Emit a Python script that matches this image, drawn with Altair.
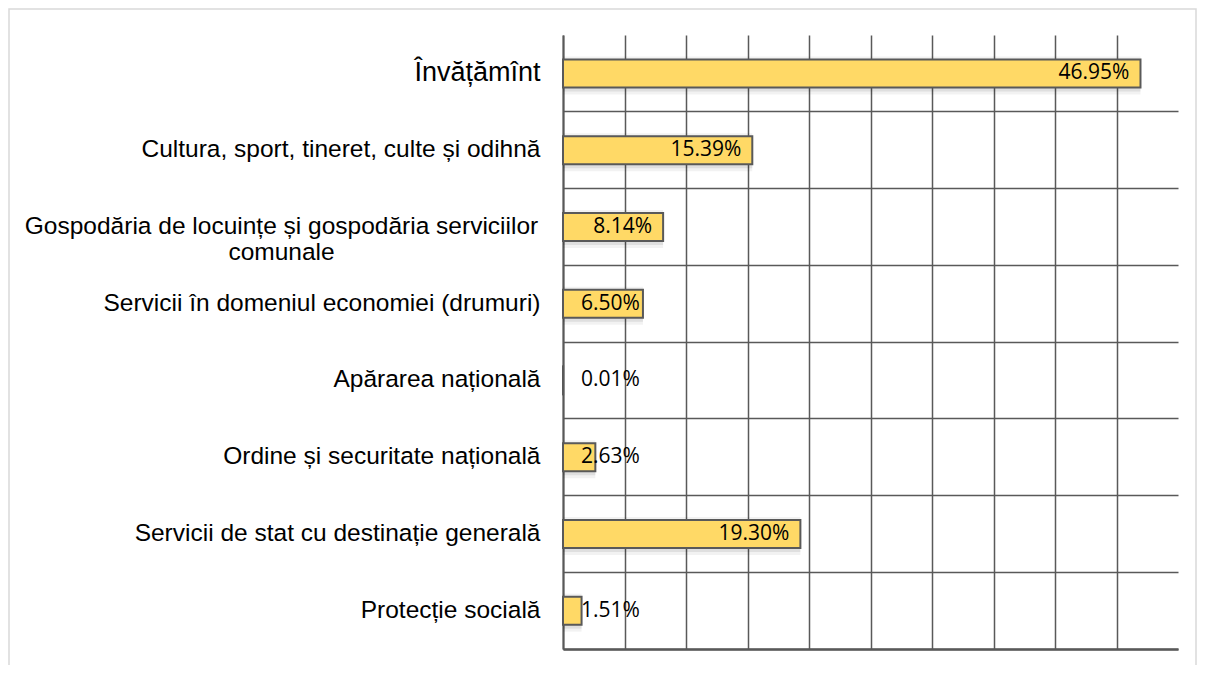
import altair as alt
import pandas as pd

categories = [
    "Învățămînt",
    "Cultura, sport, tineret, culte și odihnă",
    "Gospodăria de locuințe și gospodăria serviciilor comunale",
    "Servicii în domeniul economiei (drumuri)",
    "Apărarea națională",
    "Ordine și securitate națională",
    "Servicii de stat cu destinație generală",
    "Protecție socială",
]
values = [46.95, 15.39, 8.14, 6.50, 0.01, 2.63, 19.30, 1.51]
grid_values = [0, 5, 10, 15, 20, 25, 30, 35, 40, 45]

df = pd.DataFrame({"cat": categories, "value": values})
df["label"] = [f"{v:.2f}%" for v in values]

W, H = 615, 614
GRAY = "#595959"

y_enc = alt.Y(
    "cat:N",
    sort=categories,
    title=None,
    scale=alt.Scale(paddingInner=0, paddingOuter=0),
    axis=alt.Axis(
        ticks=False,
        domain=True,
        domainColor=GRAY,
        domainWidth=2,
        grid=True,
        gridColor=GRAY,
        gridWidth=1.5,
        bandPosition=1,
        labelFont="Liberation Sans",
        labelFontSize={"condition": {"test": "datum.label == 'Învățămînt'", "value": 27}, "value": 24.5},
        labelColor="#000000",
        labelAlign={"condition": {"test": "indexof(datum.label, 'Gospod') == 0", "value": "center"}, "value": "right"},
        labelPadding={"condition": {"test": "indexof(datum.label, 'Gospod') == 0", "value": 282}, "value": 23},
        labelLineHeight=26,
        labelLimit=600,
        labelExpr="indexof(datum.label, 'Gospod') == 0 ? ['Gospodăria de locuințe și gospodăria serviciilor', 'comunale'] : datum.label",
    ),
)

x_scale = alt.Scale(domain=[0, 50], nice=False)

base = alt.Chart(df)

border = alt.Chart(alt.Data(values=[{"a": 1}])).mark_rect(
    fill=None, stroke="#d9d9d9", strokeWidth=1.5, clip=False
).encode(
    x=alt.value(-554), x2=alt.value(633), y=alt.value(-26), y2=alt.value(700)
)

bars_axis = base.mark_bar(opacity=0).encode(
    y=y_enc,
    x=alt.X(
        "value:Q",
        scale=x_scale,
        title=None,
        axis=alt.Axis(
            values=grid_values,
            labels=False,
            ticks=False,
            domain=True,
            domainColor=GRAY,
            domainWidth=2.5,
            grid=True,
            gridColor=GRAY,
            gridWidth=1.5,
        ),
    ),
)

shadow1 = base.mark_bar(color="#000000", opacity=0.05, size=38, x2Offset=8, yOffset=2).encode(
    y=alt.Y("cat:N", sort=categories), x=alt.X("value:Q", scale=x_scale)
)
shadow2 = base.mark_bar(color="#000000", opacity=0.08, size=32, x2Offset=4, yOffset=2).encode(
    y=alt.Y("cat:N", sort=categories), x=alt.X("value:Q", scale=x_scale)
)

bars = base.mark_bar(color="#FFD966", stroke=GRAY, strokeWidth=2, size=28).encode(
    y=alt.Y("cat:N", sort=categories), x=alt.X("value:Q", scale=x_scale)
)

text = base.transform_calculate(
    tx="max(datum.value, 7.15)"
).mark_text(
    align="right", baseline="middle", dx=-11, font="Open Sans", fontSize=21, color="#000000"
).encode(
    y=alt.Y("cat:N", sort=categories),
    x=alt.X("tx:Q", scale=x_scale),
    text="label:N",
)

chart = alt.layer(border, bars_axis, shadow1, shadow2, bars, text).properties(
    width=W,
    height=H,
    autosize=alt.AutoSizeParams(type="none"),
    padding={"left": 555, "top": 27, "right": 19, "bottom": 16},
    background="#ffffff",
).configure_view(stroke=None)

chart.save("out.html", embed_options={"renderer": "svg", "actions": False})
